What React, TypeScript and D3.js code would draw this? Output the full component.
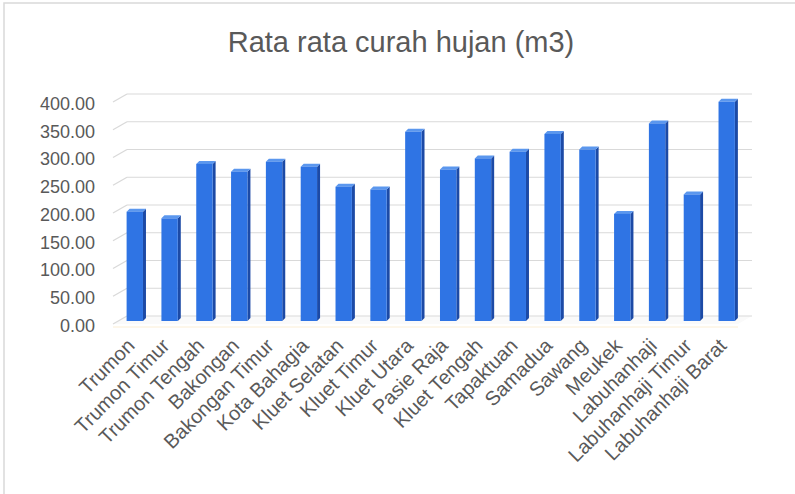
import React from "react";
import * as d3 from "d3";

const categories = [
  "Trumon", "Trumon Timur", "Trumon Tengah", "Bakongan", "Bakongan Timur",
  "Kota Bahagia", "Kluet Selatan", "Kluet Timur", "Kluet Utara", "Pasie Raja",
  "Kluet Tengah", "Tapaktuan", "Samadua", "Sawang", "Meukek", "Labuhanhaji",
  "Labuhanhaji Timur", "Labuhanhaji Barat",
];
const values = [197, 185, 283, 269, 287, 278, 242, 237, 341, 273, 293, 305, 337, 309, 193, 356, 228, 395];
const yTicks = [0, 50, 100, 150, 200, 250, 300, 350, 400];
const title = "Rata rata curah hujan (m3)";

const W = 795, H = 494;
const DX = 14, DY = -8; // depth offset front -> back
const BAR_DEPTH = 0.375;

export default function App() {
  const x = d3.scaleBand<string>().domain(categories).range([113, 738]).paddingInner(0.53).paddingOuter(0.24);
  const yF = d3.scaleLinear().domain([0, 400]).range([324, 102]);
  const bx = DX * BAR_DEPTH, by = DY * BAR_DEPTH;
  const sideW = 3, capH = 3;
  const bw = x.bandwidth();
  const grey = "#d9d9d9";
  const txt = "#595959";
  const x0 = 113, x1 = 738;
  const font = "Liberation Sans, Arial, sans-serif";
  return (
    <svg width={W} height={H} style={{ position: "absolute", left: 0, top: 0, background: "#fff" }}>
      <rect x={4} y={3} width={W + 10} height={H + 10} fill="#fff" stroke={grey} strokeWidth={1.5} />
      <text x={401} y={52} textAnchor="middle" fontFamily={font} fontSize={29} fill={txt}>
        {title}
      </text>
      {/* floor */}
      <polygon points={`${x0},${yF(0)} ${x1},${yF(0)} ${x1 + DX},${yF(0) + DY} ${x0 + DX},${yF(0) + DY}`} fill="#fafafa" />
      <line x1={x0} y1={yF(0) + 3} x2={x1} y2={yF(0) + 3} stroke="#fbeed5" strokeWidth={1} />
      {/* gridlines */}
      {yTicks.map((t) => (
        <g key={t}>
          <line x1={x0} y1={yF(t)} x2={x0 + DX} y2={yF(t) + DY} stroke={grey} strokeWidth={1.2} />
          <line x1={x0 + DX} y1={yF(t) + DY} x2={x1 + DX} y2={yF(t) + DY} stroke={grey} strokeWidth={1.2} />
        </g>
      ))}
      {/* y labels */}
      {yTicks.map((t) => (
        <text key={t} x={95} y={yF(t) + 1.5} dy="0.35em" textAnchor="end" fontFamily={font} fontSize={18} fill={txt}>
          {t.toFixed(2)}
        </text>
      ))}
      {/* bars */}
      {categories.map((c, i) => {
        const left = (x(c) as number) + bx;
        const right = left + bw;
        const top = yF(values[i]) + by;
        const bot = yF(0) + by;
        return (
          <g key={c}>
            <polygon points={`${right},${top} ${right + sideW},${top - capH} ${right + sideW},${bot - capH} ${right},${bot}`} fill="#1c4aa6" />
            <polygon points={`${left},${top} ${right},${top} ${right + sideW},${top - capH} ${left + sideW},${top - capH}`} fill="#5b97ee" />
            <rect x={left} y={top} width={bw} height={bot - top} fill="#2f74e4" />
          </g>
        );
      })}
      {/* x labels */}
      {categories.map((c) => {
        const cx = (x(c) as number) + bx + bw / 2 + 1;
        const cy = 347;
        return (
          <text key={c} transform={`translate(${cx},${cy}) rotate(-45)`} textAnchor="end" fontFamily={font} fontSize={20} fill={txt}>
            {c}
          </text>
        );
      })}
    </svg>
  );
}
